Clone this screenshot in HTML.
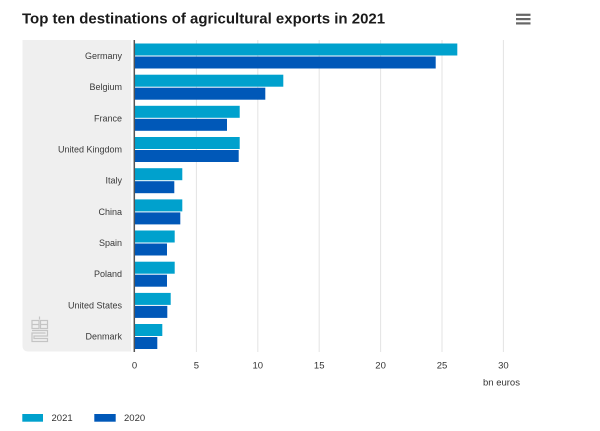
<!DOCTYPE html>
<html>
<head>
<meta charset="utf-8">
<style>
html,body{margin:0;padding:0;background:#fff;}
svg{display:block;}
text{font-family:"Liberation Sans",sans-serif;}
</style>
</head>
<body>
<svg width="600" height="431" viewBox="0 0 600 431" xmlns="http://www.w3.org/2000/svg">
  <rect x="0" y="0" width="600" height="431" fill="#fff"/>
  <!-- Title -->
  <text x="22" y="23.5" font-size="15" font-weight="bold" fill="#1a1a1a">Top ten destinations of agricultural exports in 2021</text>
  <!-- hamburger -->
  <rect x="516" y="13.7" width="14.5" height="2.2" fill="#666"/>
  <rect x="516" y="18" width="14.5" height="2.2" fill="#666"/>
  <rect x="516" y="22.3" width="14.5" height="2.2" fill="#666"/>

  <!-- label panel -->
  <path d="M22.5,40 H131 V351.5 H28.5 Q22.5,351.5 22.5,345.5 Z" fill="#efefef"/>

  <!-- CBS logo -->
  <g fill="none" stroke="#c4c4c4" stroke-width="1.2">
    <line x1="39.5" y1="316.5" x2="39.5" y2="319.5"/>
    <rect x="32" y="320.5" width="7" height="8"/>
    <rect x="40.5" y="320.5" width="7" height="8"/>
    <line x1="32" y1="324.5" x2="39" y2="324.5"/>
    <line x1="40.5" y1="324.5" x2="47.5" y2="324.5"/>
    <path d="M32,330.5 H47.5 V336 H34 V338.5 H47.5 V341.5 H32 V333 H45 V332.5"/>
  </g>

  <!-- gridlines -->
  <g stroke="#e3e3e3" stroke-width="1">
    <line x1="196.4" y1="40" x2="196.4" y2="352"/>
    <line x1="257.8" y1="40" x2="257.8" y2="352"/>
    <line x1="319.2" y1="40" x2="319.2" y2="352"/>
    <line x1="380.6" y1="40" x2="380.6" y2="352"/>
    <line x1="442" y1="40" x2="442" y2="352"/>
    <line x1="503.4" y1="40" x2="503.4" y2="352"/>
  </g>

  <!-- bars -->
  <g>
    <!-- Germany -->
    <rect x="135" y="43.5" width="322.3" height="12" fill="#00a1cd"/>
    <rect x="135" y="56.5" width="300.7" height="12" fill="#0058b8"/>
    <!-- Belgium -->
    <rect x="135" y="74.7" width="148.3" height="12" fill="#00a1cd"/>
    <rect x="135" y="87.7" width="130.3" height="12" fill="#0058b8"/>
    <!-- France -->
    <rect x="135" y="105.8" width="104.7" height="12" fill="#00a1cd"/>
    <rect x="135" y="118.8" width="92" height="12" fill="#0058b8"/>
    <!-- UK -->
    <rect x="135" y="137" width="104.7" height="12" fill="#00a1cd"/>
    <rect x="135" y="150" width="103.7" height="12" fill="#0058b8"/>
    <!-- Italy -->
    <rect x="135" y="168.2" width="47.3" height="12" fill="#00a1cd"/>
    <rect x="135" y="181.2" width="39.3" height="12" fill="#0058b8"/>
    <!-- China -->
    <rect x="135" y="199.4" width="47.3" height="12" fill="#00a1cd"/>
    <rect x="135" y="212.4" width="45.3" height="12" fill="#0058b8"/>
    <!-- Spain -->
    <rect x="135" y="230.5" width="39.7" height="12" fill="#00a1cd"/>
    <rect x="135" y="243.5" width="32" height="12" fill="#0058b8"/>
    <!-- Poland -->
    <rect x="135" y="261.7" width="39.7" height="12" fill="#00a1cd"/>
    <rect x="135" y="274.7" width="32" height="12" fill="#0058b8"/>
    <!-- United States -->
    <rect x="135" y="292.9" width="35.7" height="12" fill="#00a1cd"/>
    <rect x="135" y="305.9" width="32.3" height="12" fill="#0058b8"/>
    <!-- Denmark -->
    <rect x="135" y="324" width="27.3" height="12" fill="#00a1cd"/>
    <rect x="135" y="337" width="22.3" height="12" fill="#0058b8"/>
  </g>

  <!-- axis line -->
  <line x1="134.3" y1="40" x2="134.3" y2="352" stroke="#555" stroke-width="1.5"/>

  <!-- category labels -->
  <g font-size="9" fill="#3a3a3a" text-anchor="end">
    <text x="122" y="59">Germany</text>
    <text x="122" y="90.2">Belgium</text>
    <text x="122" y="121.3">France</text>
    <text x="122" y="152.5">United Kingdom</text>
    <text x="122" y="183.7">Italy</text>
    <text x="122" y="214.9">China</text>
    <text x="122" y="246">Spain</text>
    <text x="122" y="277.2">Poland</text>
    <text x="122" y="308.4">United States</text>
    <text x="122" y="339.5">Denmark</text>
  </g>

  <!-- x tick labels -->
  <g font-size="9.5" fill="#333" text-anchor="middle">
    <text x="134.5" y="368.5">0</text>
    <text x="196.4" y="368.5">5</text>
    <text x="257.8" y="368.5">10</text>
    <text x="319.2" y="368.5">15</text>
    <text x="380.6" y="368.5">20</text>
    <text x="442" y="368.5">25</text>
    <text x="503.4" y="368.5">30</text>
    <text x="501.5" y="385.5">bn euros</text>
  </g>

  <!-- legend -->
  <rect x="22.3" y="414" width="20.7" height="7.7" fill="#00a1cd"/>
  <text x="51.5" y="421" font-size="9.5" fill="#333">2021</text>
  <rect x="94.3" y="414" width="21.4" height="7.7" fill="#0058b8"/>
  <text x="124" y="421" font-size="9.5" fill="#333">2020</text>
</svg>
</body>
</html>
